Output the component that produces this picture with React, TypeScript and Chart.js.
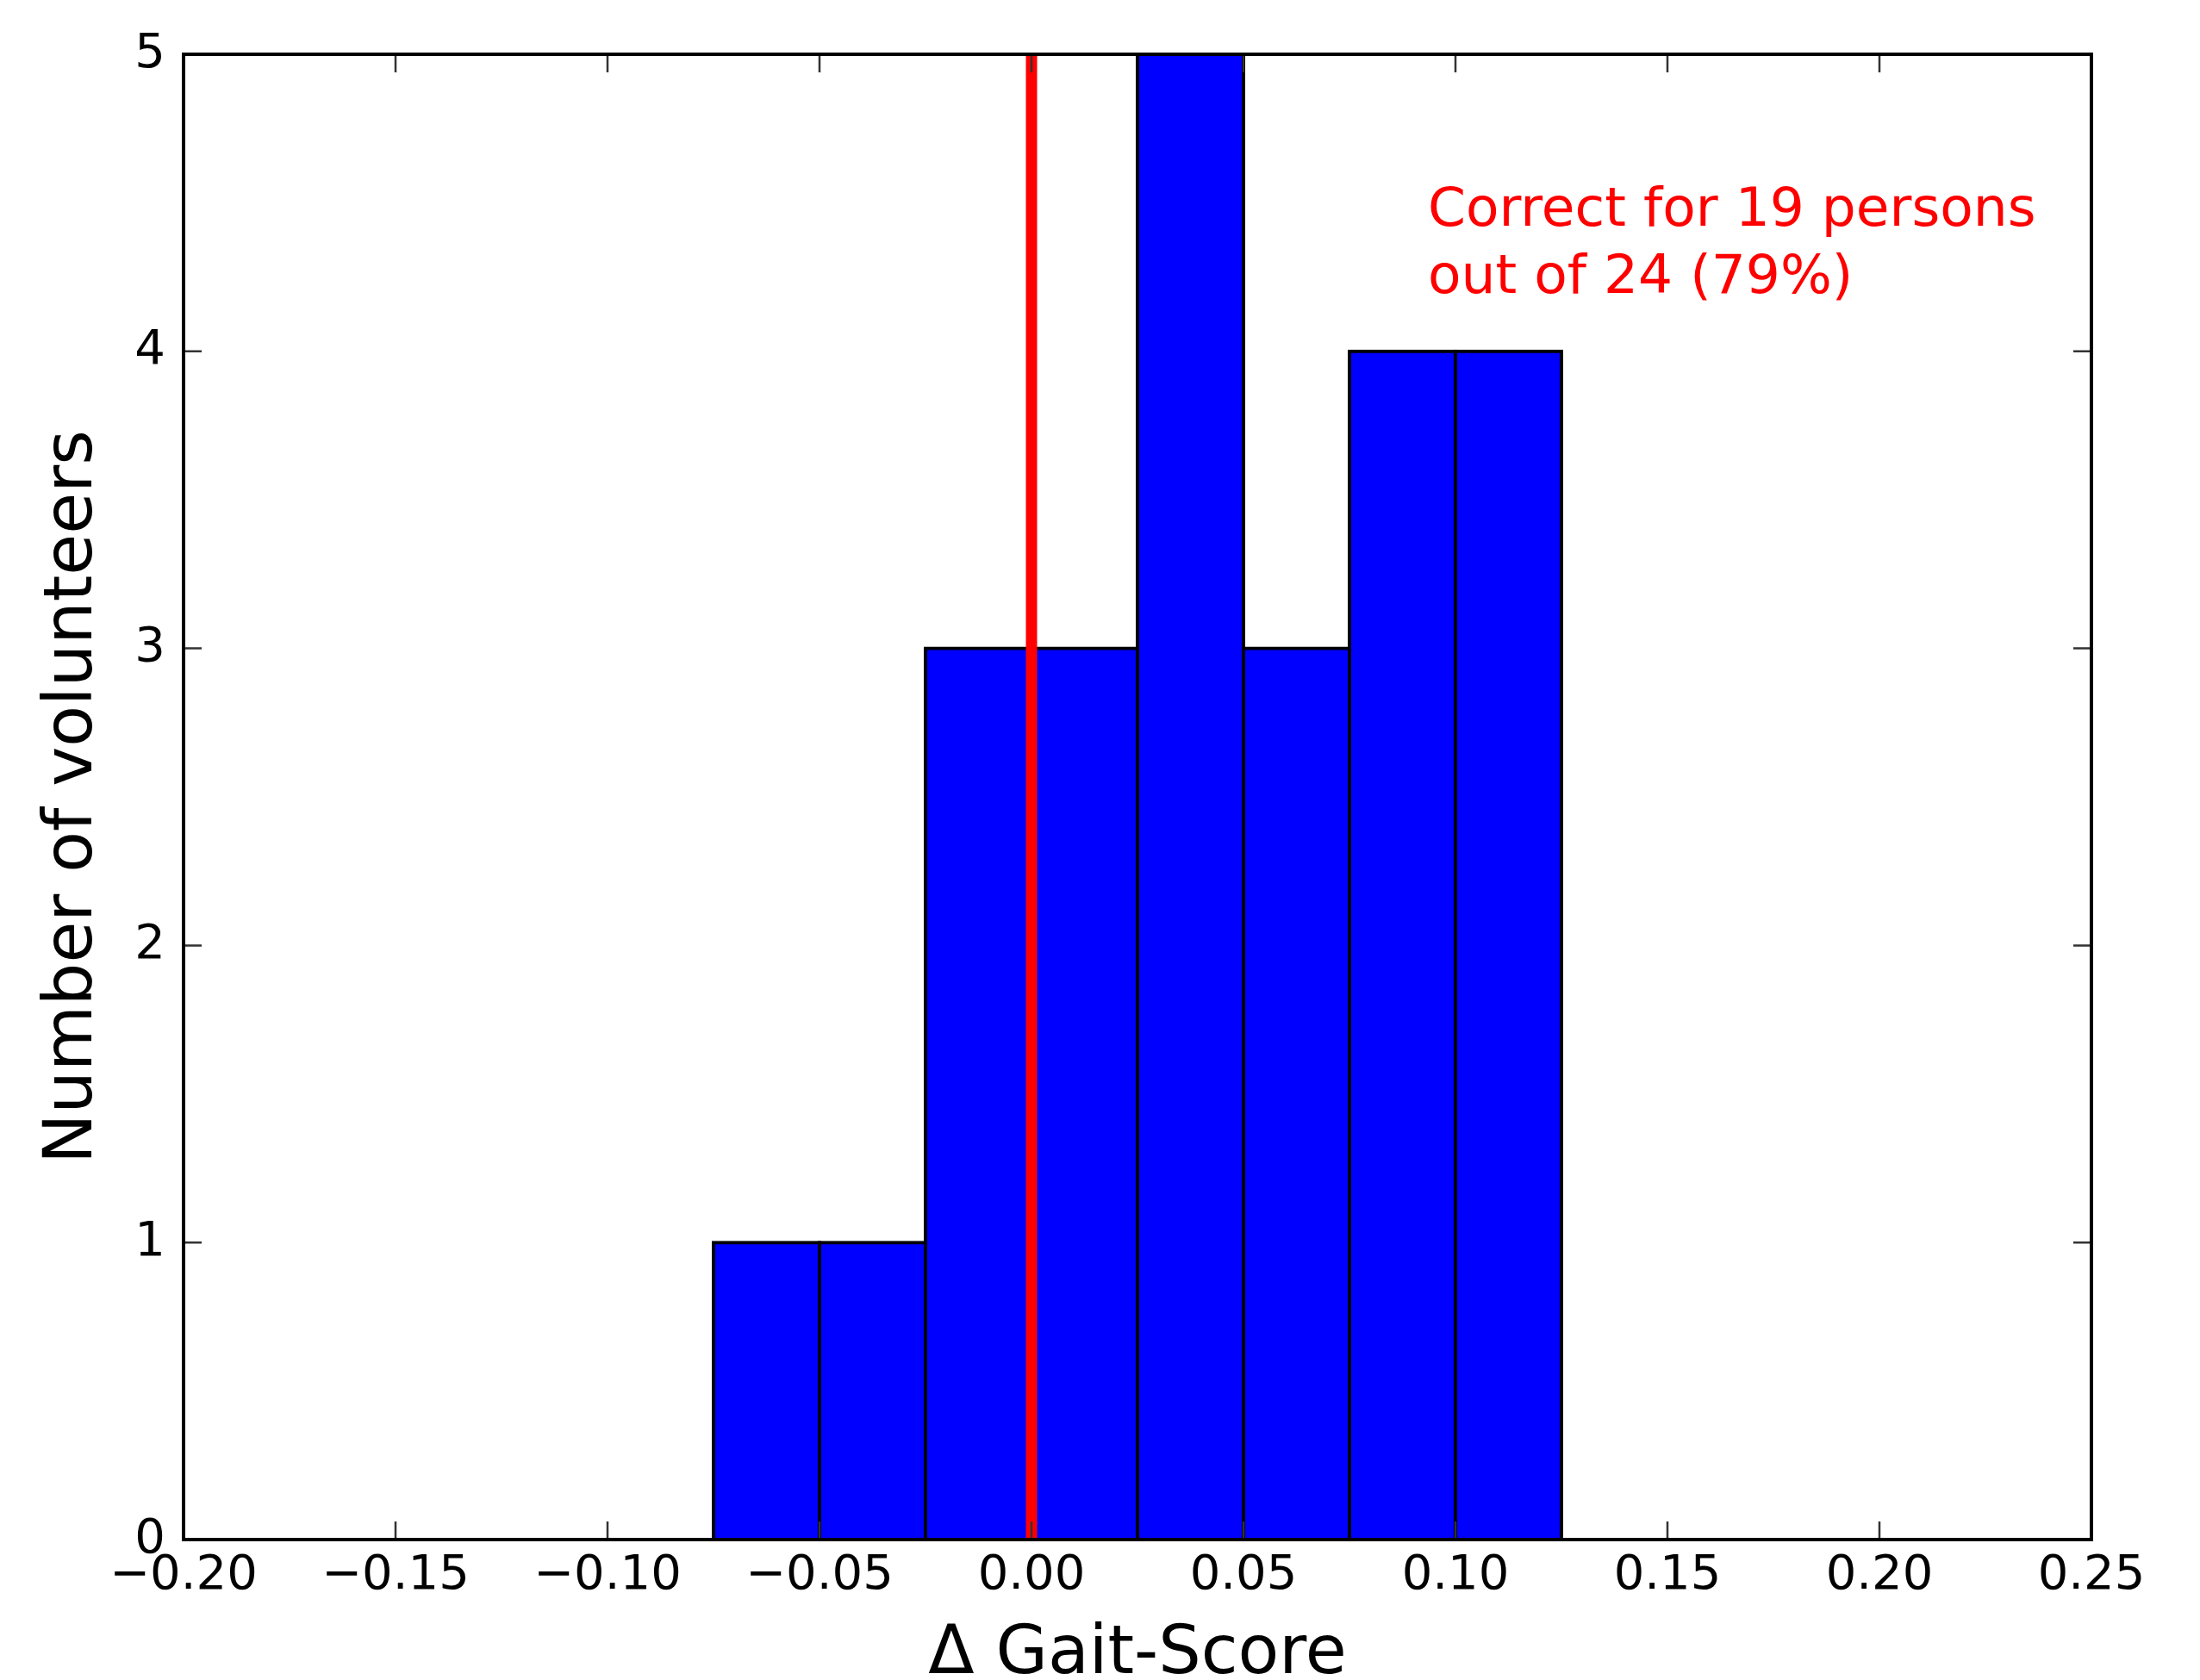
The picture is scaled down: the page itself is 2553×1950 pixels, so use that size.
import React, { useEffect, useRef } from "react";
import { Chart, registerables } from "chart.js";

Chart.register(...registerables);

// ---- data ----
const BIN_CENTERS = [-0.0875, -0.0625, -0.0375, -0.0125, 0.0125, 0.0375, 0.0625, 0.0875, 0.1125, 0.1375, 0.1625];
const COUNTS = [0, 1, 1, 3, 3, 5, 3, 4, 4, 0, 0];
const X_MIN = -0.2;
const X_MAX = 0.25;
const X_STEP = 0.05;
const Y_MIN = 0;
const Y_MAX = 5;
const Y_STEP = 1;
const REF_LINE_X = 0;
const NOTE_LINES = ["Correct for 19 persons", "out of 24 (79%)"];
const NOTE_X = 0.0935;
const NOTE_Y = 4.423;
const X_TITLE = "\u0394 Gait-Score";
const Y_TITLE = "Number of volunteers";

const FONT = "'DejaVu Sans', 'Liberation Sans', sans-serif";

const overlayPlugin = {
  id: "overlay",
  afterDatasetsDraw(chart: any) {
    const { ctx, chartArea: a, scales } = chart;
    const xs = scales.x;
    const ys = scales.y;
    const TL = 21;
    ctx.save();
    ctx.strokeStyle = "#333333";
    ctx.lineWidth = 2.5;
    ctx.beginPath();
    xs.ticks.forEach((t: any) => {
      const px = xs.getPixelForValue(t.value);
      ctx.moveTo(px, a.bottom);
      ctx.lineTo(px, a.bottom - TL);
      ctx.moveTo(px, a.top);
      ctx.lineTo(px, a.top + TL);
    });
    ys.ticks.forEach((t: any) => {
      const py = ys.getPixelForValue(t.value);
      ctx.moveTo(a.left, py);
      ctx.lineTo(a.left + TL, py);
      ctx.moveTo(a.right, py);
      ctx.lineTo(a.right - TL, py);
    });
    ctx.stroke();
    // frame
    ctx.strokeStyle = "#000000";
    ctx.lineWidth = 4;
    ctx.strokeRect(a.left, a.top, a.right - a.left, a.bottom - a.top);
    // annotation
    ctx.fillStyle = "#ff0000";
    ctx.font = `63px ${FONT}`;
    ctx.textAlign = "left";
    ctx.textBaseline = "alphabetic";
    const tx = xs.getPixelForValue(NOTE_X);
    const ty = ys.getPixelForValue(NOTE_Y);
    NOTE_LINES.forEach((line, i) => ctx.fillText(line, tx, ty + i * 78));
    ctx.restore();
  },
};

export default function App() {
  const ref = useRef<HTMLCanvasElement | null>(null);

  useEffect(() => {
    if (!ref.current) return;
    const chart = new Chart(ref.current, {
      type: "bar",
      data: {
        datasets: [
          {
            type: "line",
            data: [
              { x: REF_LINE_X, y: Y_MIN },
              { x: REF_LINE_X, y: Y_MAX },
            ],
            borderColor: "#ff0000",
            borderWidth: 13,
            pointRadius: 0,
            fill: false,
            order: 0,
          } as any,
          {
            type: "bar",
            data: BIN_CENTERS.map((c, i) => ({ x: c, y: COUNTS[i] })),
            backgroundColor: "#0000ff",
            borderColor: "#000000",
            borderWidth: 4,
            borderSkipped: false,
            inflateAmount: 2,
            barPercentage: 1,
            categoryPercentage: 1,
            order: 1,
          } as any,
        ],
      },
      options: {
        responsive: false,
        animation: false,
        events: [],
        layout: { padding: { left: 0, top: 63, right: 126, bottom: 0 } },
        plugins: { legend: { display: false }, tooltip: { enabled: false } },
        scales: {
          x: {
            type: "linear",
            min: X_MIN,
            max: X_MAX,
            offset: false,
            grid: { display: false, drawTicks: false, offset: false },
            border: { display: false },
            ticks: {
              stepSize: X_STEP,
              autoSkip: false,
              maxRotation: 0,
              padding: 14,
              color: "#000000",
              font: { family: FONT, size: 56, lineHeight: 1 },
              callback: (v: any) => Number(v).toFixed(2).replace("-", "\u2212"),
            },
            title: {
              display: true,
              text: X_TITLE,
              color: "#000000",
              font: { family: FONT, size: 78, lineHeight: 0.72 },
              padding: 0,
            },
            afterFit: (s: any) => {
              s.height = 163;
            },
          },
          y: {
            type: "linear",
            min: Y_MIN,
            max: Y_MAX,
            grid: { display: false, drawTicks: false },
            border: { display: false },
            ticks: {
              stepSize: Y_STEP,
              padding: 21,
              color: "#000000",
              font: { family: FONT, size: 56, lineHeight: 1 },
            },
            title: {
              display: true,
              text: Y_TITLE,
              color: "#000000",
              font: { family: FONT, size: 78, lineHeight: 1 },
              padding: { top: 47, bottom: 0 },
            },
            afterFit: (s: any) => {
              s.width = 213;
            },
          },
        },
      },
      plugins: [overlayPlugin],
    });
    return () => chart.destroy();
  }, []);

  return (
    <div style={{ position: "absolute", left: 0, top: 0, width: 2553, height: 1950, background: "#ffffff" }}>
      <canvas ref={ref} width={2553} height={1950} style={{ display: "block" }} />
    </div>
  );
}
